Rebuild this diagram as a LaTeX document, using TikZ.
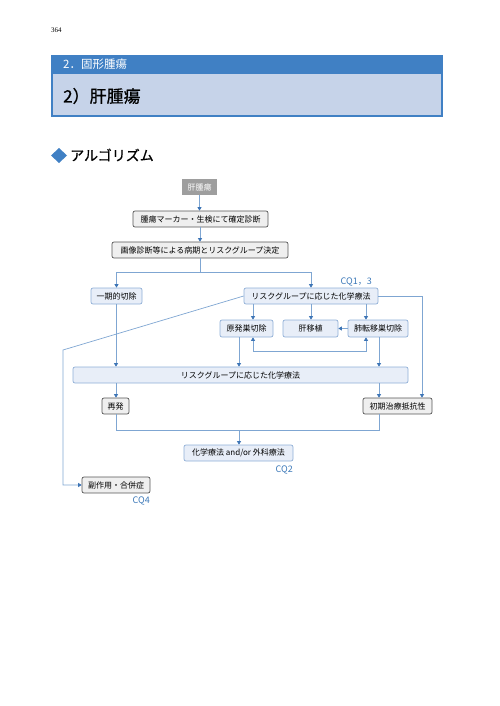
\documentclass[tikz,border=0pt]{standalone}
\usepackage{fontspec}
\setmainfont{Noto Sans CJK JP}
\newfontfamily\titlefont[FakeBold=0.8]{Noto Sans CJK JP}
\newfontfamily\pagenumfont{Liberation Serif}
\usetikzlibrary{arrows.meta}
\definecolor{hdrblue}{HTML}{4080C4}
\definecolor{hdrlight}{HTML}{C6D3E9}
\definecolor{lineblue}{HTML}{7FA6D2}
\definecolor{tipblue}{HTML}{3C74B5}
\definecolor{boxblue}{HTML}{E8EEF8}
\definecolor{boxblueborder}{HTML}{8FAFD6}
\definecolor{boxgray}{HTML}{EFEFEF}
\definecolor{boxgrayborder}{HTML}{555555}
\definecolor{startgray}{HTML}{9E9E9E}
\definecolor{cqblue}{HTML}{3B78B8}
\tikzset{
  base/.style={rounded corners=2pt, minimum height=16pt, inner sep=1pt, font=\fontsize{8}{9}\selectfont, line width=0.7pt},
  gbox/.style={base, draw=boxgrayborder, fill=boxgray},
  bbox/.style={base, draw=boxblueborder, fill=boxblue},
  startbox/.style={minimum height=16pt, inner sep=1pt, fill=startgray, text=white, font=\fontsize{8}{9}\selectfont},
  conn/.style={draw=lineblue, line width=0.7pt},
  arr/.style={conn, -{Triangle[length=3.5pt,width=4pt,color=tipblue]}},
  biarr/.style={conn, {Triangle[length=3.5pt,width=4pt,color=tipblue]}-{Triangle[length=3.5pt,width=4pt,color=tipblue]}},
  cq/.style={text=cqblue, font=\fontsize{9}{10}\selectfont, inner sep=0pt},
}
\begin{document}
\begin{tikzpicture}[x=1pt,y=-1pt]
\useasboundingbox (0,0) rectangle (500,706);
% page number
\node[anchor=west, inner sep=0pt, font=\pagenumfont\fontsize{7}{8}\selectfont] (pn) at (51,30) {364};
% header
\fill[hdrblue] (51,55) rectangle (443,117);
\fill[hdrlight] (53,74) rectangle (441,115);
\node[anchor=west, inner sep=0pt, text=white, font=\fontsize{11.5}{12}\selectfont] (sec) at (63,64.5) {2．固形腫瘍};
\node[anchor=west, inner sep=0pt, font=\titlefont\fontsize{17}{18}\selectfont] (ttl) at (63,96) {2）肝腫瘍};
% algorithm heading
\fill[hdrblue] (59,148) -- (67,155.5) -- (59,163) -- (51,155.5) -- cycle;
\node[anchor=west, inner sep=0pt, font=\titlefont\fontsize{14}{15}\selectfont] (alg) at (70,155) {アルゴリズム};
% nodes
\node[startbox, minimum width=35pt] (start) at (199.5,187) {肝腫瘍};
\node[gbox, minimum width=135pt] (mk) at (200.5,219) {腫瘍マーカー・生検にて確定診断};
\node[gbox, minimum width=176pt] (img) at (200,250) {画像診断等による病期とリスクグループ決定};
\node[bbox, minimum width=51pt] (ikki) at (116.5,296) {一期的切除};
\node[bbox, minimum width=134pt] (riskA) at (311,296) {リスクグループに応じた化学療法};
\node[bbox, minimum width=53pt, minimum height=17pt] (gen) at (246.5,328.5) {原発巣切除};
\node[bbox, minimum width=55pt, minimum height=17pt] (kan) at (310.5,328.5) {肝移植};
\node[bbox, minimum width=60pt, minimum height=17pt] (hai) at (378,328.5) {肺転移巣切除};
\node[bbox, minimum width=335pt] (riskB) at (240.5,375) {リスクグループに応じた化学療法};
\node[gbox, minimum width=27pt] (sai) at (115.5,406) {再発};
\node[gbox, minimum width=69pt] (shoki) at (397.5,406) {初期治療抵抗性};
\node[bbox, minimum width=109pt] (chem) at (238.5,453) {化学療法 and/or 外科療法};
\node[gbox, minimum width=68pt] (fuku) at (116,485) {副作用・合併症};
% CQ labels
\node[cq, anchor=east] (cq13) at (372,281.5) {CQ1，3};
\node[cq, anchor=east] (cq2) at (293,469.5) {CQ2};
\node[cq, anchor=east] (cq4) at (150,501) {CQ4};
% helper coordinates
\coordinate (j1) at (200,272);
\coordinate (xg) at (253,0);
\coordinate (xk) at (311,0);
\coordinate (xh) at (366,0);
\coordinate (yb) at (0,351);
\coordinate (xg2) at (239,0);
\coordinate (xh2) at (379,0);
\coordinate (xr) at (422,0);
\coordinate (xl) at (116,0);
\coordinate (dg) at (63,350);
\coordinate (yl) at (0,485);
\coordinate (j2) at (0,430);
\coordinate (xc) at (239,0);
% connectors
\draw[arr] (start.south) -- (start.south |- mk.north);
\draw[arr] (mk.south -| img.north) -- (img.north);
\draw[conn] (img.south) -- (img.south |- j1);
\draw[conn] (ikki.north |- j1) -- (riskA.north |- j1);
\draw[arr] (ikki.north |- j1) -- (ikki.north);
\draw[arr] (riskA.north |- j1) -- (riskA.north);
\draw[arr] (riskA.south -| xg) -- (gen.north -| xg);
\draw[arr] (riskA.south -| xk) -- (kan.north -| xk);
\draw[arr] (riskA.south -| xh) -- (hai.north -| xh);
\draw[arr] (hai.west) -- (kan.east);
\draw[biarr] (gen.south -| xg) -- (xg |- yb) -- (xh |- yb) -- (hai.south -| xh);
\draw[arr] (ikki.south -| xl) -- (riskB.north -| xl);
\draw[arr] (gen.south -| xg2) -- (riskB.north -| xg2);
\draw[arr] (hai.south -| xh2) -- (riskB.north -| xh2);
\draw[arr] (riskA.east) -- (riskA.east -| xr) -- (shoki.north -| xr);
\draw[arr] (riskA.west) -- (dg) -- (dg |- yl) -- (fuku.west);
\draw[arr] (riskB.south -| xl) -- (sai.north -| xl);
\draw[arr] (riskB.south -| xh2) -- (shoki.north -| xh2);
\draw[conn] (sai.south -| xl) -- (xl |- j2) -- (xh2 |- j2) -- (shoki.south -| xh2);
\draw[arr] (xc |- j2) -- (chem.north -| xc);
\end{tikzpicture}
\end{document}
